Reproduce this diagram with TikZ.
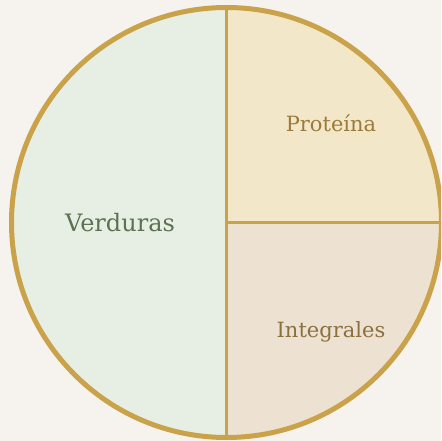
\documentclass[tikz,border=0pt]{standalone}
\usepackage{fontspec}
\setmainfont{DejaVu Serif}
\definecolor{bg}{HTML}{F6F2EE}
\definecolor{veg}{HTML}{E7EFE4}
\definecolor{prot}{HTML}{F3E7C9}
\definecolor{grain}{HTML}{EDE1D2}
\definecolor{rim}{HTML}{C9A24A}
\definecolor{vegtext}{HTML}{5E7150}
\definecolor{prottext}{HTML}{9C7A3A}
\definecolor{graintext}{HTML}{8C7040}
\begin{document}
\begin{tikzpicture}[x=1pt,y=-1pt,
  lbl/.style={font=\fontsize{21}{24}\selectfont, inner sep=0pt}]
\useasboundingbox (0,0) rectangle (441,441);
\fill[bg] (0,0) rectangle (441,441);
\coordinate (c) at (226.5,222.5);
\begin{scope}
\clip (0,0) rectangle (441,441);
\fill[veg] (226.5,7.5) arc[start angle=-90, end angle=-270, radius=215] -- cycle;
\fill[prot] (c) -- (226.5,7.5) arc[start angle=-90, end angle=0, radius=215] -- cycle;
\fill[grain] (c) -- (441.5,222.5) arc[start angle=0, end angle=90, radius=215] -- cycle;
\coordinate (top) at (226.5,7.5);
\coordinate (bot) at (226.5,437.5);
\coordinate (rt) at (441.5,222.5);
\draw[rim, line width=3pt] (top) -- (bot);
\draw[rim, line width=3pt] (c) -- (rt);
\draw[rim, line width=5pt] (c) circle[radius=215];
\end{scope}
\node[lbl, font=\fontsize{24}{28}\selectfont, text=vegtext] (v) at (120,223) {Verduras};
\node[lbl, text=prottext] (p) at (331,123) {Proteína};
\node[lbl, text=graintext] (g) at (331,332) {Integrales};
\end{tikzpicture}
\end{document}
